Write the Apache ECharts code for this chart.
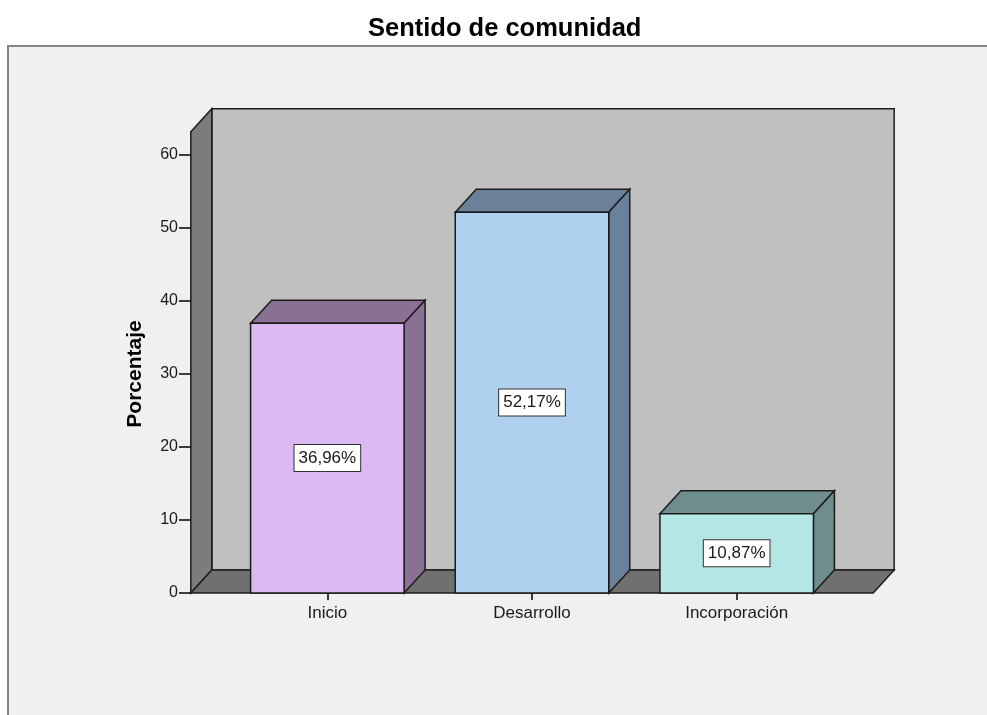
<!DOCTYPE html>
<html>
<head>
<meta charset="utf-8">
<title>Sentido de comunidad</title>
<script src="https://cdn.jsdelivr.net/npm/echarts@6/dist/echarts.min.js"></script>
<style>
html, body { margin: 0; padding: 0; background: #fff; }
#chart { width: 987px; height: 715px; }
</style>
</head>
<body>
<div id="chart"></div>
<script>
// 数据
var categories = ['Inicio', 'Desarrollo', 'Incorporación'];
var percentages = [36.96, 52.17, 10.87];
var yMin = 0;
var yMax = 60;
var yStep = 10;

// 颜色: 正面 / 侧面与顶面
var frontColors = ['#dcb9f2', '#afd0ee', '#b4e6e6'];
var sideColors = ['#8a7194', '#6a8199', '#6e8d8c'];

var DX = 21;          // 3D depth, px
var DY = -23;
var WALL_TOP = 63.2;  // wall height in axis units
var EDGE = '#1c1c1c';
var FONT = '"Liberation Sans", Arial, sans-serif';

function fmt (v) {
    return v.toFixed(2).replace('.', ',') + '%';
}

// back wall, left wall, floor
function renderWalls (params, api) {
    var band = api.size([1, 0])[0];
    var left = api.coord([0, 0])[0] - band * 0.667;
    var right = api.coord([categories.length - 1, 0])[0] + band * 0.667;
    var yb = api.coord([0, 0])[1];
    var yt = api.coord([0, WALL_TOP])[1];
    var st = function (fill) {
        return { fill: fill, stroke: EDGE, lineWidth: 1.5, lineJoin: 'miter' };
    };
    return {
        type: 'group',
        children: [
            { type: 'polygon', shape: { points: [[left + DX, yt + DY], [right + DX, yt + DY], [right + DX, yb + DY], [left + DX, yb + DY]] }, style: st('#c0c0c0') },
            { type: 'polygon', shape: { points: [[left, yt], [left + DX, yt + DY], [left + DX, yb + DY], [left, yb]] }, style: st('#7c7c7c') },
            { type: 'polygon', shape: { points: [[left, yb], [left + DX, yb + DY], [right + DX, yb + DY], [right, yb]] }, style: st('#707070') }
        ]
    };
}

// 3D bar
function renderBar (params, api) {
    var i = params.dataIndex;
    var v = api.value(1);
    var top = api.coord([api.value(0), v]);
    var base = api.coord([api.value(0), 0]);
    var w = api.size([1, 0])[0] * 0.75;
    var l = top[0] - w / 2;
    var r = top[0] + w / 2;
    var st = function (fill) {
        return { fill: fill, stroke: EDGE, lineWidth: 1.5, lineJoin: 'miter' };
    };
    return {
        type: 'group',
        children: [
            { type: 'polygon', shape: { points: [[l, top[1]], [l + DX, top[1] + DY], [r + DX, top[1] + DY], [r, top[1]]] }, style: st(sideColors[i]) },
            { type: 'polygon', shape: { points: [[r, top[1]], [r + DX, top[1] + DY], [r + DX, base[1] + DY], [r, base[1]]] }, style: st(sideColors[i]) },
            { type: 'rect', shape: { x: l, y: top[1], width: w, height: base[1] - top[1] }, style: st(frontColors[i]) },
            {
                type: 'text',
                style: {
                    text: fmt(v),
                    x: top[0],
                    y: (top[1] + base[1]) / 2,
                    align: 'center',
                    verticalAlign: 'middle',
                    fill: '#1a1a1a',
                    fontSize: 17,
                    fontFamily: FONT,
                    lineHeight: 17,
                    backgroundColor: '#ffffff',
                    borderColor: '#333333',
                    borderWidth: 1,
                    padding: [5, 4, 4, 4]
                }
            }
        ]
    };
}

var chart = echarts.init(document.getElementById('chart'));
var barData = percentages.map(function (v, i) { return [i, v]; });

var option = {
    backgroundColor: '#ffffff',
    animation: false,
    textStyle: { fontFamily: FONT },
    title: {
        text: 'Sentido de comunidad',
        left: 368,
        top: 16,
        padding: 0,
        textStyle: { fontSize: 25.5, fontWeight: 'bold', color: '#000', fontFamily: FONT }
    },
    graphic: [{
        type: 'rect',
        z: -10,
        shape: { x: 8, y: 46, width: 1000, height: 700 },
        style: { fill: '#f0f0f0', stroke: '#858585', lineWidth: 2 }
    }],
    grid: {
        left: 225,
        width: 614,
        top: 155,
        height: 438
    },
    xAxis: {
        type: 'category',
        data: categories,
        boundaryGap: true,
        axisLine: { show: false },
        axisTick: { show: true, alignWithLabel: true, length: 7, lineStyle: { color: '#000', width: 1.5 } },
        axisLabel: { fontSize: 17, color: '#1a1a1a', margin: 12 },
        splitLine: { show: false }
    },
    yAxis: {
        type: 'value',
        min: yMin,
        max: yMax,
        interval: yStep,
        offset: 34,
        name: 'Porcentaje',
        nameLocation: 'middle',
        nameRotate: 90,
        nameGap: 45,
        nameTextStyle: { fontSize: 21, fontWeight: 'bold', color: '#000' },
        axisLine: { show: false },
        axisTick: { show: true, length: 12, lineStyle: { color: '#000', width: 1.5 } },
        axisLabel: { fontSize: 16, color: '#1a1a1a', margin: 13 },
        splitLine: { show: false }
    },
    series: [{
        type: 'custom',
        name: 'walls',
        z: 1,
        silent: true,
        renderItem: renderWalls,
        data: [[0, 0]]
    }, {
        type: 'custom',
        name: 'Porcentaje',
        z: 2,
        renderItem: renderBar,
        encode: { x: 0, y: 1 },
        data: barData
    }]
};

chart.setOption(option);
window.onresize = chart.resize;
</script>
</body>
</html>
